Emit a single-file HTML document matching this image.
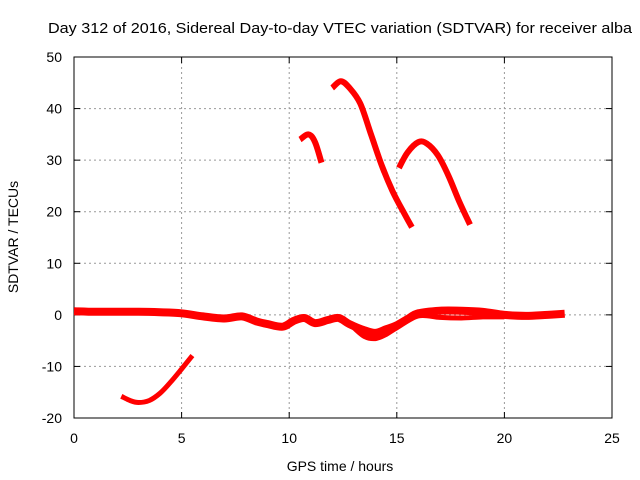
<!DOCTYPE html>
<html><head><meta charset="utf-8"><style>body{margin:0;background:#fff}svg{display:block;font-family:"Liberation Sans",sans-serif}</style></head>
<body>
<svg id="c" width="640" height="480"></svg>
<script>
const xTicks=[0,5,10,15,20,25];
const yTicks=[-20,-10,0,10,20,30,40,50];
const baseX=[0,1,2,3,4,5,6,7,7.8,8.5,9,9.7,10.2,10.7,11.2,11.8,12.3,12.8,13.5,14,14.5,15,15.5,16,17,18,19,20,21,22,22.8];
const baseY=[0.7,0.6,0.6,0.6,0.5,0.3,-0.3,-0.7,-0.3,-1.3,-1.8,-2.3,-1.2,-0.6,-1.6,-1.0,-0.6,-1.8,-3.0,-3.5,-2.8,-2.0,-0.8,0.3,0.8,0.8,0.6,0.0,-0.2,0.0,0.2];
const base2X=[13,13.5,14,14.5,15,16,17,18,19,20];
const base2Y=[-2.5,-4.2,-4.6,-3.8,-2.5,-0.2,-0.5,-0.6,-0.4,-0.4];
const arcAX=[2.2,2.6,3.0,3.5,4.0,4.5,5.0,5.5];
const arcAY=[-15.8,-16.6,-17.0,-16.6,-15.2,-13,-10.5,-7.9];
const arcBX=[10.5,10.9,11.2,11.5];
const arcBY=[34,35,33.5,29.5];
const arcCX=[12.0,12.4,12.8,13.3,13.8,14.3,14.8,15.3,15.7];
const arcCY=[44,45.3,44,41,35,29,24,20,17];
const arcDX=[15.1,15.5,16.0,16.4,16.9,17.4,17.9,18.4];
const arcDY=[28.5,31.5,33.5,33.2,31,27,22,17.5];
const L=74,R=612,T=57,B=418;
const sx=v=>L+(v-0)/25*(R-L), sy=v=>B-(v+20)/70*(B-T);
const svg=document.getElementById('c');const NS='http://www.w3.org/2000/svg';
function mk(t,a,txt){const e=document.createElementNS(NS,t);for(const k in a)e.setAttribute(k,a[k]);if(txt!=null)e.textContent=txt;svg.appendChild(e);return e;}
let e;
e=mk('text',{x:48,y:33,'font-size':15,textLength:584,lengthAdjust:'spacingAndGlyphs'},'Day 312 of 2016, Sidereal Day-to-day VTEC variation (SDTVAR) for receiver alba');


xTicks.forEach(v=>{const x=sx(v);
 if(v>0&&v<25){e=mk('line',{x1:x,x2:x,y1:T,y2:B,stroke:'#999','stroke-dasharray':'2,3'});}
 e=mk('text',{x:x,y:443,'text-anchor':'middle','font-size':14},v);
 
 
 mk('line',{x1:x,x2:x,y1:B,y2:B-6,stroke:'#000'});mk('line',{x1:x,x2:x,y1:T,y2:T+6,stroke:'#000'});});
yTicks.forEach(v=>{const y=sy(v);
 if(v>-20&&v<50){e=mk('line',{x1:L,x2:R,y1:y,y2:y,stroke:'#999','stroke-dasharray':'2,3'});}
 e=mk('text',{x:62,y:y+5,'text-anchor':'end','font-size':14},v);
 
 
 mk('line',{x1:L,x2:L+6,y1:y,y2:y,stroke:'#000'});mk('line',{x1:R,x2:R-6,y1:y,y2:y,stroke:'#000'});});
e=mk('rect',{x:L,y:T,width:R-L,height:B-T,fill:'none',stroke:'#000'});


e=mk('text',{x:340,y:471,'text-anchor':'middle','font-size':14},'GPS time / hours');


e=mk('text',{x:0,y:0,'text-anchor':'middle','font-size':14,transform:'translate(18,237) rotate(-90)'},'SDTVAR / TECUs');


function series(xs,ys,w,name){
 const P=xs.map((x,i)=>[sx(x),sy(ys[i])]);
 let d='M'+P[0][0].toFixed(1)+','+P[0][1].toFixed(1);
 for(let i=0;i<P.length-1;i++){const p0=P[i-1]||P[i],p1=P[i],p2=P[i+1],p3=P[i+2]||p2;
  const c1=[p1[0]+(p2[0]-p0[0])/6,p1[1]+(p2[1]-p0[1])/6],c2=[p2[0]-(p3[0]-p1[0])/6,p2[1]-(p3[1]-p1[1])/6];
  d+=' C'+c1.map(n=>n.toFixed(1)).join(',')+' '+c2.map(n=>n.toFixed(1)).join(',')+' '+p2.map(n=>n.toFixed(1)).join(',');}
 const el=mk('path',{d:d,fill:'none',stroke:'#f00','stroke-width':w,'stroke-linejoin':'round'});
 
 }
series(baseX,baseY,8,'series-baseline');
series(base2X,base2Y,5,'series-baseline-lower');
series(arcAX,arcAY,5,'series-arc-a');
series(arcBX,arcBY,6,'series-arc-b');
series(arcCX,arcCY,6,'series-arc-c');
series(arcDX,arcDY,6,'series-arc-d');
</script>
</body></html>
